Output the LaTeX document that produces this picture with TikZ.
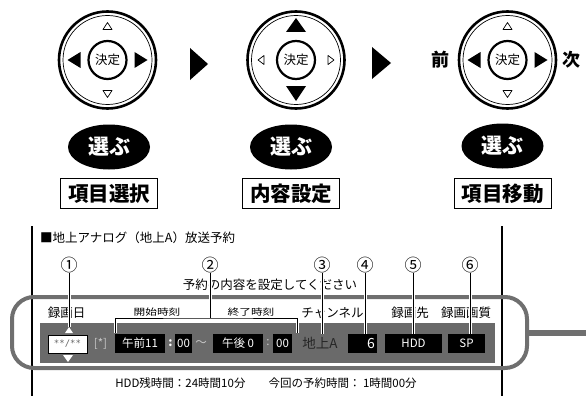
\documentclass[tikz,border=0pt]{standalone}
\usepackage{fontspec}
\newfontfamily\jp{Noto Sans CJK JP}
\newfontfamily\jpwide[FakeStretch=1.3]{Noto Sans CJK JP}
\newfontfamily\monofont{DejaVu Sans Mono}
\usetikzlibrary{positioning, shapes.geometric, calc}
\definecolor{framegray}{HTML}{6F6F6F}
\definecolor{panelgray}{HTML}{6A6A6A}
\definecolor{dimtext}{HTML}{C8C8C8}

\begin{document}
\begin{tikzpicture}[x=1pt, y=-1pt,
  ring/.style={line width=2.6pt},
  opentri/.style={draw=black, fill=white, line width=0.7pt, line join=round},
  choose/.style={ellipse, fill=black, text=white, minimum width=82pt, minimum height=45pt, inner sep=0pt, font=\jp\bfseries\fontsize{21}{21}\selectfont},
  modebox/.style={draw, line width=0.9pt, minimum width=97pt, minimum height=30pt, inner sep=0pt, font=\jp\bfseries\fontsize{20.5}{20.5}\selectfont},
  caption/.style={font=\jp\fontsize{12.5}{12.5}\selectfont, inner sep=0pt},
  num/.style={font=\jp\fontsize{17}{17}\selectfont, inner sep=0pt},
  sublabel/.style={font=\jpwide\fontsize{9}{9}\selectfont, inner sep=0pt},
  field/.style={fill=black, text=white, minimum height=19pt, inner sep=0pt, font=\jp\fontsize{11.5}{11.5}\selectfont},
  leader/.style={line width=0.8pt, preaction={draw=white, line width=3pt}},
]
\useasboundingbox (0,0) rectangle (586,396);

% remote pads
\coordinate (padA) at (107.5,60);
\coordinate (padB) at (296,60);
\coordinate (padC) at (507.5,60);
\foreach \p in {padA,padB,padC}{
  \draw[ring] (\p) circle (48.5pt);
  \draw[line width=0.7pt] (\p) circle (44.5pt);
  \draw[line width=2.2pt] (\p) circle (19pt);
  \node[font=\jp\fontsize{12.5}{12.5}\selectfont, inner sep=0pt] (\p-ok) at (\p) {決定};
}
\foreach \p in {padA,padC}{
  \fill (\p) ++(-40,0) -- ++(13,-8) -- ++(0,16) -- cycle;
  \fill (\p) ++(40,0) -- ++(-13,-8) -- ++(0,16) -- cycle;
  \draw[opentri] (\p) ++(0,-37.5) -- ++(4.5,7) -- ++(-9,0) -- cycle;
  \draw[opentri] (\p) ++(0,37.5) -- ++(4.5,-7) -- ++(-9,0) -- cycle;
}
\fill (padB) ++(0,-42) -- ++(10,14) -- ++(-20,0) -- cycle;
\fill (padB) ++(0,41) -- ++(10,-15) -- ++(-20,0) -- cycle;
\draw[opentri] (padB) ++(-38,0) -- ++(6,-4.5) -- ++(0,9) -- cycle;
\draw[opentri] (padB) ++(38,0) -- ++(-6,-4.5) -- ++(0,9) -- cycle;

\coordinate (nextA) at (190,48);
\fill (nextA) -- ++(0,32) -- ++(18,-16) -- cycle;
\coordinate (nextB) at (372,47);
\fill (nextB) -- ++(0,32) -- ++(19,-16) -- cycle;

\node[font=\jp\bfseries\fontsize{18}{18}\selectfont] (prev) at (440,60) {前};
\node[font=\jp\bfseries\fontsize{18}{18}\selectfont] (next) at (571,60) {次};

\node[choose] (pickA) at (109,147) {選ぶ};
\node[choose] (pickB) at (291,147) {選ぶ};
\node[choose] (pickC) at (502.5,146) {選ぶ};
\node[modebox, below=8.5pt of pickA] (itemSel) {項目選択};
\node[modebox, below=8.5pt of pickB] (valueSet) {内容設定};
\node[modebox, below=9.5pt of pickC] (itemMove) {項目移動};

% timer screen
\draw[line width=1.3pt] (32,226) -- (32,396);
\draw[line width=1.3pt] (502,226) -- (502,396);
\node[draw=framegray, line width=4pt, rounded corners=22pt, minimum width=515pt, minimum height=71pt] (frame) at (269.5,332.5) {};
\coordinate (exit) at (586,332.5);
\draw[framegray, line width=6pt] (frame.east) -- (exit);
\fill[panelgray] (40,323) rectangle (495,363);

\node[caption, anchor=west] (title) at (40,238) {■地上アナログ（地上A）放送予約};
\node[caption] (hint) at (270,285) {予約の内容を設定してください};

\node[caption] (lblDate) at (66.5,313) {録画日};
\node[sublabel] (lblStart) at (157,312) {開始時刻};
\node[sublabel] (lblEnd) at (251,312) {終了時刻};
\node[caption] (lblChan) at (332.5,313) {チャンネル};
\node[caption] (lblDest) at (410,313) {録画先};
\node[caption] (lblMode) at (466,313) {録画画質};

\node[draw, fill=white, line width=0.6pt, minimum width=39pt, minimum height=18pt, inner sep=0pt, text=black!60, font=\monofont\fontsize{9}{9}\selectfont] (date) at (67.5,344) {**/**};
\node[text=dimtext, font=\jp\fontsize{11.5}{11.5}\selectfont] (week) at (100.5,343.5) {[*]};
\node[field, minimum width=50pt] (startH) at (140,343.5) {午前11};
\node[text=white, font=\jp\bfseries\fontsize{12}{12}\selectfont] (colA) at (170.5,343) {:};
\node[field, minimum width=17pt] (startM) at (183.5,343.5) {00};
\node[text=dimtext, font=\jp\fontsize{11.5}{11.5}\selectfont] (tilde) at (201,343.5) {～};
\node[field, minimum width=50pt] (endH) at (238,343.5) {午後 0};
\node[text=dimtext, font=\jp\fontsize{11.5}{11.5}\selectfont] (colB) at (268,343) {:};
\node[field, minimum width=19pt] (endM) at (282.5,343.5) {00};
\node[text=black!85, font=\jp\fontsize{13.5}{13.5}\selectfont] (chan) at (320,343.5) {地上A};
\node[field, minimum width=29pt, text width=25pt, align=right, font=\jp\fontsize{14}{14}\selectfont] (chNo) at (362.5,343.5) {6};
\node[field, minimum width=57pt] (dest) at (413.5,343.5) {HDD};
\node[field, minimum width=37pt] (mode) at (466.5,343.5) {SP};
\fill[white] (63,355) -- (73,355) -- (68,362) -- cycle;

\node[num] (num1) at (69,265) {①};
\node[num] (num2) at (210,265) {②};
\node[num] (num3) at (322,265) {③};
\node[num] (num4) at (365,265) {④};
\node[num] (num5) at (413,265) {⑤};
\node[num] (num6) at (470,265) {⑥};

\coordinate (dateTip) at (69,327);
\draw[leader] (num1.south) -- (dateTip);
\fill[white] (dateTip) -- ++(4,6) -- ++(-8,0) -- cycle;
\coordinate (spanTop) at (210,318);
\coordinate (spanL) at (115,333);
\coordinate (spanR) at (297,333);
\draw[leader] (num2.south) -- (spanTop) (spanL) |- (spanTop) -| (spanR);
\draw[leader] (num3.south) -- (num3.south |- dest.north);
\draw[leader] (num4.south) -- (num4.south |- chNo.north);
\draw[leader] (num5.south) -- (num5.south |- dest.north);
\draw[leader] (num6.south) -- (num6.south |- mode.north);

\node[font=\jp\fontsize{11.5}{11.5}\selectfont] (remain) at (266,383) {HDD残時間：24時間10分\hspace{2em}今回の予約時間： 1時間00分};
\end{tikzpicture}
\end{document}
